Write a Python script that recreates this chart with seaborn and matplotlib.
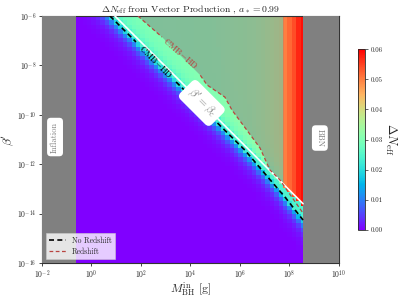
import numpy as np
import matplotlib
matplotlib.use("Agg")
import matplotlib.pyplot as plt
import seaborn as sns

# excluded mass bands, log10(M / g)
INFLATION_EDGE = -0.63
BBN_EDGE = 8.55

# beta' = beta_c line, read at its two ends (log10 M, log10 beta)
bc_logm = [-0.63, 8.55]
bc_logbeta = [-4.42, -13.60]

# Delta N_eff versus mass: far above beta_c, right at beta_c, and how far
# (in decades) the cyan shoulder reaches below beta_c
node_logm = [-0.72, 2.0, 5.0, 6.5, 7.3, 7.65, 7.74, 7.83, 8.01, 8.19, 8.37, 8.55]
dn_far = [0.030, 0.030, 0.031, 0.033, 0.036, 0.038, 0.050, 0.050, 0.052, 0.054, 0.057, 0.059]
dn_edge = [0.025, 0.025, 0.025, 0.026, 0.028, 0.030, 0.050, 0.050, 0.052, 0.054, 0.057, 0.059]
dn_below = 0.024
shoulder = [0.15, 0.15, 0.15, 0.17, 0.30, 0.40, 0.42, 0.44, 0.48, 0.53, 0.58, 0.62]

# CMB-HD reach, no redshift (nan = gap for the inline label)
nored_logm = [0.75, 1.80, np.nan, 3.42, 6.20, 7.33, 7.82, 8.55]
nored_logbeta = [-6.00, -7.05, np.nan, -8.67, -11.43, -12.76, -13.33, -14.26]

# CMB-HD reach, with redshift
red_logm = [1.88, 2.85, np.nan, 4.40, 4.67, 5.39, 5.68, 6.28, 6.81, 7.21, 7.62, 7.74, 8.55]
red_logbeta = [-6.00, -6.85, np.nan, -8.40, -8.79, -9.28, -9.81, -10.62, -11.34, -12.23,
               -12.64, -12.82, -13.98]
SHADE_END = 7.74

XTICKS = [-2, 0, 2, 4, 6, 8, 10]
YTICKS = [-16, -14, -12, -10, -8, -6]
CBAR_TICKS = [0.00, 0.01, 0.02, 0.03, 0.04, 0.05, 0.06]


def build_field():
    m_edges = np.arange(-0.72, 8.75, 0.18)
    b_edges = np.linspace(-16, -6, 57)
    mc = 0.5 * (m_edges[1:] + m_edges[:-1])
    bcent = 0.5 * (b_edges[1:] + b_edges[:-1])
    M, B = np.meshgrid(mc, bcent)

    # distance (decades) above the beta_c line
    slope = (bc_logbeta[1] - bc_logbeta[0]) / (bc_logm[1] - bc_logm[0])
    r = B - (bc_logbeta[0] + (M - bc_logm[0]) * slope)
    far = np.interp(M, node_logm, dn_far)
    edge = np.interp(M, node_logm, dn_edge)
    sh = np.interp(M, node_logm, shoulder)

    above = far - (far - edge) * 10 ** (-np.clip(r, 0, None) / 0.8)
    below = dn_below * np.minimum(1.0, 10 ** ((r + sh) / 0.7))
    field = np.where(r >= 0, above, below)
    return 10 ** m_edges, 10 ** b_edges, field


def main():
    sns.set_style("ticks")
    plt.rcParams["font.family"] = "serif"
    plt.rcParams["font.serif"] = ["cmr10"]
    plt.rcParams["mathtext.fontset"] = "cm"
    plt.rcParams["axes.formatter.use_mathtext"] = True

    fig = plt.figure(figsize=(4.03, 2.97), dpi=100)
    ax = fig.add_axes([0.104, 0.1145, 0.737, 0.8316])
    cax = fig.add_axes([0.888, 0.2256, 0.0174, 0.609])

    cmap = sns.color_palette("rainbow", as_cmap=True)
    xe, ye, field = build_field()
    mesh = ax.pcolormesh(xe, ye, field, cmap=cmap, vmin=0, vmax=0.06,
                         shading="flat", zorder=1)

    # region reached by CMB-HD (with redshift)
    rl = np.array(red_logm)
    rb = np.array(red_logbeta)
    keep = ~np.isnan(rl) & (rl <= SHADE_END)
    ax.fill_between(10 ** rl[keep], 10 ** rb[keep], 1e-6, color="gray",
                    alpha=0.5, lw=0, zorder=2)

    ax.plot(10 ** np.array(bc_logm), 10 ** np.array(bc_logbeta), color="white",
            lw=1.2, zorder=4)
    ax.plot(10 ** np.array(nored_logm), 10 ** np.array(nored_logbeta), color="black",
            ls=(0, (3, 2)), lw=1.2, zorder=4, label="No Redshift")
    ax.plot(10 ** rl, 10 ** rb, color="#b8443f", ls=(0, (3, 2)), lw=0.9,
            zorder=4, label="Redshift")

    ax.text(10 ** 2.61, 10 ** -7.84, r"CMB$-$HD", rotation=-45, fontsize=6.5,
            color="black", ha="center", va="center", rotation_mode="anchor", zorder=5)
    ax.text(10 ** 3.62, 10 ** -7.53, r"CMB$-$HD", rotation=-41, fontsize=6.5,
            color="#b8443f", ha="center", va="center", rotation_mode="anchor", zorder=5)
    ax.text(10 ** 4.46, 10 ** -9.52, r"$\beta' = \beta_c$", rotation=-45, fontsize=8,
            color="#808080", ha="center", va="center", rotation_mode="anchor", zorder=6,
            bbox=dict(boxstyle="round,pad=0.45", fc="white", ec="none"))

    ax.axvspan(1e-2, 10 ** INFLATION_EDGE, color="gray", lw=0, zorder=3)
    ax.axvspan(10 ** BBN_EDGE, 1e10, color="gray", lw=0, zorder=3)
    ax.text(10 ** -1.47, 10 ** -10.9, "Inflation", rotation=90, fontsize=6,
            color="#808080", ha="center", va="center", zorder=6,
            bbox=dict(boxstyle="round,pad=0.45", fc="white", ec="none"))
    ax.text(10 ** 9.23, 10 ** -10.94, "BBN", rotation=-90, fontsize=6,
            color="#808080", ha="center", va="center", zorder=6,
            bbox=dict(boxstyle="round,pad=0.45", fc="white", ec="none"))

    ax.set_xscale("log")
    ax.set_yscale("log")
    ax.set_xlim(1e-2, 1e10)
    ax.set_ylim(1e-16, 1e-6)
    ax.set_xticks([10.0 ** k for k in XTICKS])
    ax.set_yticks([10.0 ** k for k in YTICKS])
    ax.minorticks_off()
    ax.tick_params(labelsize=5.5, length=2.5, width=0.6, pad=1.5)
    for sp in ax.spines.values():
        sp.set_linewidth(0.8)
        sp.set_color("#333333")

    ax.set_xlabel(r"$M_{\rm BH}^{\rm in}$ [g]", fontsize=8.5, labelpad=-1)
    ax.set_ylabel(r"$\beta'$", fontsize=8.5, labelpad=1)
    ax.set_title(r"$\Delta N_{\rm eff}$ from Vector Production , $a_* = 0.99$",
                 fontsize=7, pad=3)

    leg = ax.legend(loc="lower left", fontsize=5.5, frameon=True, handlelength=2.2,
                    borderpad=0.4, labelspacing=0.4, fancybox=False)
    leg.set_zorder(7)
    leg.get_frame().set_linewidth(0.5)

    cb = fig.colorbar(mesh, cax=cax, ticks=CBAR_TICKS, format="%.2f")
    cb.ax.tick_params(labelsize=5, length=2, width=0.5, pad=2)
    cb.outline.set_linewidth(0.6)
    cb.set_label(r"$\Delta N_{\rm eff}$", fontsize=9, rotation=270, labelpad=11)

    fig.savefig("out.png", dpi=100)
    plt.close(fig)


if __name__ == "__main__":
    main()
